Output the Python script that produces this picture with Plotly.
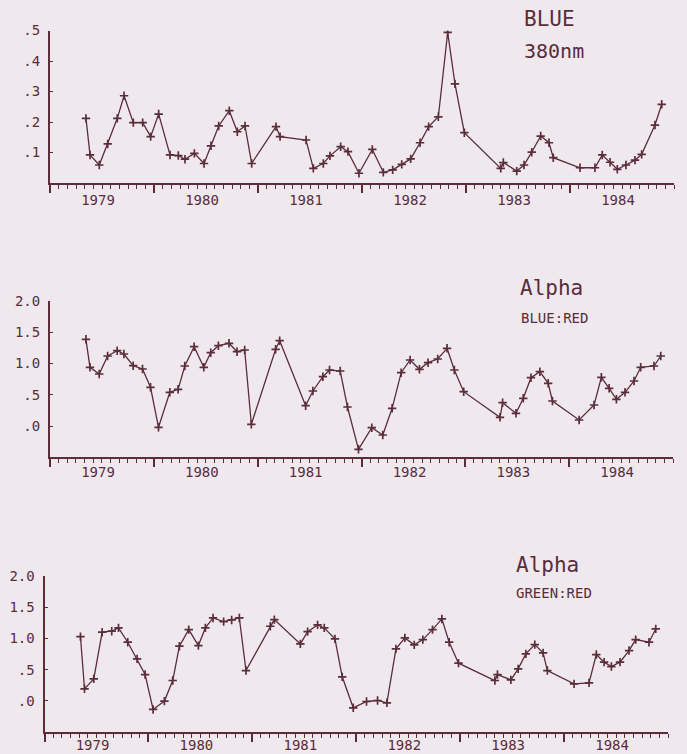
import plotly.graph_objects as go

# ---- data (decimal years) ----
dates = [1979.346, 1979.385, 1979.474, 1979.555, 1979.647, 1979.712, 1979.801, 1979.891,
         1979.968, 1980.045, 1980.154, 1980.234, 1980.298, 1980.388, 1980.481, 1980.548,
         1980.622, 1980.724, 1980.801, 1980.875, 1980.939, 1981.173, 1981.212, 1981.462,
         1981.532, 1981.628, 1981.692, 1981.795, 1981.865, 1981.971, 1982.099, 1982.205,
         1982.295, 1982.382, 1982.468, 1982.558, 1982.641, 1982.734, 1982.824, 1982.894,
         1982.984, 1983.334, 1983.359, 1983.488, 1983.558, 1983.632, 1983.718, 1983.798,
         1983.839, 1984.096, 1984.240, 1984.310, 1984.385, 1984.455, 1984.538, 1984.625,
         1984.689, 1984.817, 1984.882]

blue_380 = [0.212, 0.092, 0.059, 0.128, 0.212, 0.286, 0.198, 0.198, 0.152, 0.226, 0.092,
            0.090, 0.078, 0.097, 0.064, 0.122, 0.187, 0.237, 0.168, 0.187, 0.064, 0.185,
            0.152, 0.141, 0.048, 0.064, 0.089, 0.119, 0.103, 0.032, 0.110, 0.035, 0.043,
            0.061, 0.079, 0.132, 0.185, 0.217, 0.494, 0.325, 0.165, 0.048, 0.067, 0.039,
            0.059, 0.101, 0.154, 0.132, 0.083, 0.050, 0.050, 0.092, 0.068, 0.045, 0.059,
            0.075, 0.094, 0.190, 0.258]

alpha_blue_red = [1.387, 0.939, 0.832, 1.120, 1.205, 1.152, 0.965, 0.912, 0.619, -0.021,
                  0.539, 0.587, 0.960, 1.269, 0.939, 1.173, 1.285, 1.323, 1.189, 1.216,
                  0.027, 1.227, 1.365, 0.325, 0.560, 0.789, 0.896, 0.880, 0.304, -0.373,
                  -0.027, -0.144, 0.283, 0.853, 1.056, 0.907, 1.013, 1.072, 1.243, 0.896,
                  0.549, 0.139, 0.373, 0.203, 0.443, 0.773, 0.869, 0.683, 0.400, 0.096,
                  0.336, 0.779, 0.603, 0.427, 0.539, 0.720, 0.939, 0.960, 1.120]

alpha_green_red = [1.029, 0.192, 0.352, 1.099, 1.115, 1.168, 0.939, 0.672, 0.421, -0.139,
                   -0.005, 0.325, 0.875, 1.141, 0.885, 1.168, 1.328, 1.269, 1.296, 1.328,
                   0.485, 1.195, 1.301, 0.912, 1.109, 1.216, 1.168, 0.992, 0.384, -0.112,
                   -0.011, 0.005, -0.032, 0.832, 1.008, 0.896, 0.981, 1.141, 1.312, 0.939,
                   0.603, 0.325, 0.421, 0.336, 0.512, 0.752, 0.901, 0.768, 0.485, 0.272,
                   0.288, 0.741, 0.619, 0.549, 0.619, 0.805, 0.981, 0.939, 1.152]

year_ticks = [1979, 1980, 1981, 1982, 1983, 1984, 1985]
year_labels = ["1979", "1980", "1981", "1982", "1983", "1984", ""]

top_yvals = [0.1, 0.2, 0.3, 0.4, 0.5]
top_ylabels = [".1", ".2", ".3", ".4", ".5"]
alpha_yvals = [0.0, 0.5, 1.0, 1.5, 2.0]
alpha_ylabels = [".0", ".5", "1.0", "1.5", "2.0"]

titles = [("BLUE", "380nm"), ("Alpha", "BLUE:RED"), ("Alpha", "GREEN:RED")]

# ---- style ----
INK = "#5a2c3c"
BG = "#efe9ed"
FONT = "DejaVu Sans Mono"
W, H = 687, 754

month_ticks = [1979 + m / 12 for m in range(73)]

fig = go.Figure()
series = [blue_380, alpha_blue_red, alpha_green_red]
for i, ys in enumerate(series):
    sfx = "" if i == 0 else str(i + 1)
    fig.add_trace(go.Scatter(
        x=dates, y=ys, mode="lines+markers",
        line=dict(color=INK, width=1.3),
        marker=dict(symbol="cross-thin", size=6, line=dict(color=INK, width=1.7)),
        xaxis="x" + sfx, yaxis="y" + sfx, showlegend=False, hoverinfo="skip"))

# panel geometry in pixels: (x_left, x_right, y_bottom_px, y_top_px, ..., x-label standoff)
panels = [
    (50, 674, 183.0, 30.5, [0, 0.5], top_yvals, top_ylabels, -5),
    (50, 673, 457.25, 301.0, [-0.5, 2.0], alpha_yvals, alpha_ylabels, -7),
    (44.5, 668, 732.0, 576.0, [-0.5, 2.0], alpha_yvals, alpha_ylabels, -9),
]

layout = dict(
    width=W, height=H, margin=dict(l=0, r=0, t=0, b=0, pad=0, autoexpand=False),
    paper_bgcolor=BG, plot_bgcolor=BG,
    font=dict(family=FONT, color=INK, size=14),
)
for i, (xl, xr, yb, yt, yr, yv, yl, so) in enumerate(panels):
    sfx = "" if i == 0 else str(i + 1)
    layout["xaxis" + sfx] = dict(
        domain=[xl / W, xr / W], range=[1979, 1985], anchor="y" + sfx,
        automargin=False,
        showgrid=False, zeroline=False, showline=True, linecolor=INK, linewidth=2,
        tickmode="array", tickvals=year_ticks, ticktext=year_labels,
        ticks="outside", ticklen=8, tickwidth=1.5, tickcolor=INK,
        ticklabelshift=48, ticklabelstandoff=so,
        tickfont=dict(family=FONT, size=14, color=INK),
        minor=dict(tickmode="array", tickvals=month_ticks, ticks="outside", ticklen=4,
                   tickwidth=1.2, tickcolor=INK, showgrid=False),
    )
    layout["yaxis" + sfx] = dict(
        domain=[(H - yb) / H, (H - yt) / H], range=yr, anchor="x" + sfx,
        automargin=False,
        showgrid=False, zeroline=False, showline=True, linecolor=INK, linewidth=2,
        tickmode="array", tickvals=yv, ticktext=yl,
        ticks="inside", ticklen=3, tickwidth=1.2, tickcolor=INK,
        ticklabelstandoff=5,
        tickfont=dict(family=FONT, size=14, color=INK),
    )
fig.update_layout(**layout)

# titles (pixel positions of text centers)
title_pos = [((522, 18.5, 21), (522, 50.5, 20)),
             ((518, 288.5, 21), (519, 318, 14)),
             ((514, 565, 21), (514, 593, 14))]
for (t1, t2), (p1, p2) in zip(titles, title_pos):
    for txt, (px, py, fs) in ((t1, p1), (t2, p2)):
        fig.add_annotation(text=txt, x=px / W, y=(H - py) / H, xref="paper", yref="paper",
                           xanchor="left", yanchor="middle", showarrow=False,
                           font=dict(family=FONT, size=fs, color=INK))

fig.write_html("out.html")
